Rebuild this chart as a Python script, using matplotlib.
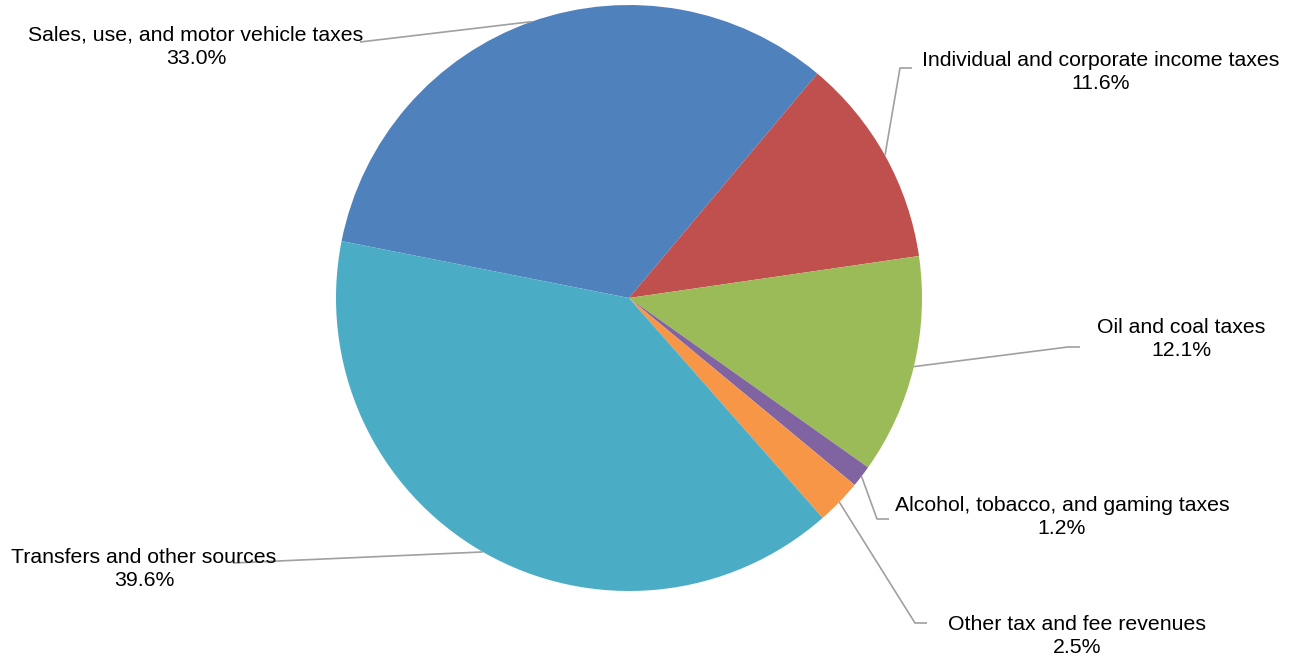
import numpy as np
import matplotlib
matplotlib.use("Agg")
import matplotlib.pyplot as plt

plt.rcParams['font.family'] = ['Liberation Sans', 'DejaVu Sans']

categories = [
    "Sales, use, and motor vehicle taxes",
    "Individual and corporate income taxes",
    "Oil and coal taxes",
    "Alcohol, tobacco, and gaming taxes",
    "Other tax and fee revenues",
    "Transfers and other sources",
]
shares = [33.0, 11.6, 12.1, 1.2, 2.5, 39.6]
colors = ["#4F81BD", "#C0504D", "#9BBB59", "#8064A2", "#F79646", "#4BACC6"]

W, H = 1294, 657
fig = plt.figure(figsize=(W / 100, H / 100), dpi=100)
ax = fig.add_axes([0, 0, 1, 1])
ax.set_xlim(0, W)
ax.set_ylim(0, H)
ax.set_aspect("equal")
ax.axis("off")

cx, cy, r = 629, H - 298, 293
wedges, _ = ax.pie(shares, colors=colors, startangle=168.8, counterclock=False,
                   center=(cx, cy), radius=r, wedgeprops=dict(linewidth=0))
ax.set_xlim(0, W)
ax.set_ylim(0, H)

# label layout in pixel coords (x, y from top): text centre, elbow points
label_pos = [
    dict(text=(196, 47), path=[(360, 42)]),
    dict(text=(1101, 72), path=[(912, 68), (900, 68)]),
    dict(text=(1181, 339), path=[(1080, 347), (1068, 347)]),
    dict(text=(1062, 517), path=[(889, 519), (877, 519)]),
    dict(text=(1077, 636), path=[(927, 623), (915, 623)]),
    dict(text=(144, 569), path=[(233, 563)]),
]

for w, name, val, lp in zip(wedges, categories, shares, label_pos):
    mid = np.deg2rad((w.theta1 + w.theta2) / 2)
    ex, ey = cx + r * np.cos(mid), cy + r * np.sin(mid)
    xs = [p[0] for p in lp["path"]] + [ex]
    ys = [H - p[1] for p in lp["path"]] + [ey]
    ax.plot(xs, ys, color="#A0A0A0", lw=1.2, solid_capstyle="butt")
    tx, ty = lp["text"]
    ax.text(tx, H - ty, f"{name}\n{val:.1f}%", ha="center", va="center",
            fontsize=15.3, color="#000000", linespacing=1.33)

fig.savefig("out.png", dpi=100)
